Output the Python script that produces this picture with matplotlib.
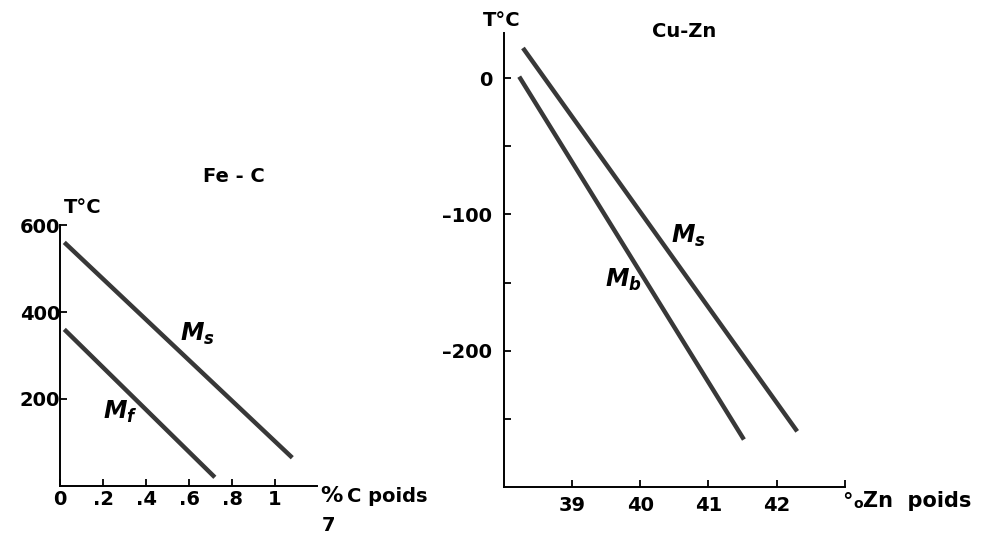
import matplotlib.pyplot as plt

plt.rcParams['font.family'] = ['DejaVu Sans']
plt.rcParams['font.weight'] = 'bold'
plt.rcParams['mathtext.fontset'] = 'custom'
plt.rcParams['mathtext.it'] = 'DejaVu Sans:italic:bold'
plt.rcParams['mathtext.rm'] = 'DejaVu Sans:bold'

# Fe-C panel
fec_carbon = [0.02, 1.08]
fec_ms = [560, 65]
fec_mf_carbon = [0.02, 0.72]
fec_mf = [360, 20]
fec_xticks = [0, 0.2, 0.4, 0.6, 0.8, 1]
fec_xlabels = ['0', '.2', '.4', '.6', '.8', '1']
fec_yticks = [200, 400, 600]

# Cu-Zn panel
cuzn_ms_zn = [38.285, 42.30]
cuzn_ms = [22, -259]
cuzn_mb_zn = [38.23, 41.52]
cuzn_mb = [1, -265]
cuzn_xticks = [39, 40, 41, 42, 43]
cuzn_xlabels = ['39', '40', '41', '42', '']
cuzn_yticks = [0, -50, -100, -150, -200, -250]
cuzn_ylabels = ['0', '', '–100', '', '–200', '']

line_col = '#383838'
fs = 14
fig = plt.figure(figsize=(9.86, 5.39), dpi=100)


def style_axes(ax):
    for s in ['top', 'right']:
        ax.spines[s].set_visible(False)
    for s in ['left', 'bottom']:
        ax.spines[s].set_linewidth(1.4)
    ax.tick_params(direction='in', length=5, width=1.3, labelsize=fs)
    for lab in ax.get_xticklabels() + ax.get_yticklabels():
        lab.set_fontweight('bold')


ax1 = fig.add_axes([60 / 986, (539 - 486) / 539, 257 / 986, 261 / 539])
ax1.plot(fec_carbon, fec_ms, color=line_col, lw=3.2, solid_capstyle='butt')
ax1.plot(fec_mf_carbon, fec_mf, color=line_col, lw=3.2, solid_capstyle='butt')
ax1.set_xlim(0.014, 1.195)
ax1.set_ylim(0, 600)
ax1.set_xticks(fec_xticks)
ax1.set_xticklabels(fec_xlabels)
ax1.set_yticks(fec_yticks)
ax1.set_yticklabels([str(v) for v in fec_yticks])
style_axes(ax1)
ax1.tick_params(axis='x', pad=3)
ax1.tick_params(axis='y', pad=0)
ax1.text(0.81, 712, 'Fe - C', ha='center', va='center', fontsize=fs, clip_on=False)
ax1.text(0.02, 640, 'T°C', ha='left', va='center', fontsize=fs, clip_on=False)
ax1.text(0.64, 349, '$M_s$', ha='center', va='center', fontsize=17)
ax1.text(0.28, 171, '$M_f$', ha='center', va='center', fontsize=17)
ax1.text(1.209, -23, '%', ha='left', va='center', fontsize=16, clip_on=False)
ax1.text(1.333, -23, 'C poids', ha='left', va='center', fontsize=fs, clip_on=False)
ax1.text(1.218, -90, '7', ha='left', va='center', fontsize=fs, clip_on=False)

ax2 = fig.add_axes([503.5 / 986, (539 - 487.3) / 539, 341.5 / 986, 454.3 / 539])
ax2.plot(cuzn_ms_zn, cuzn_ms, color=line_col, lw=3.2, solid_capstyle='butt')
ax2.plot(cuzn_mb_zn, cuzn_mb, color=line_col, lw=3.2, solid_capstyle='butt')
ax2.set_xlim(38, 43)
ax2.set_ylim(-300, 33)
ax2.set_xticks(cuzn_xticks)
ax2.set_xticklabels(cuzn_xlabels)
ax2.set_yticks(cuzn_yticks)
ax2.set_yticklabels(cuzn_ylabels)
style_axes(ax2)
ax2.tick_params(axis='x', pad=6)
ax2.tick_params(axis='y', pad=8)
ax2.text(37.97, 42, 'T°C', ha='center', va='center', fontsize=fs, clip_on=False)
ax2.text(40.65, 34, 'Cu-Zn', ha='center', va='center', fontsize=fs, clip_on=False)
ax2.text(40.70, -116, '$M_s$', ha='center', va='center', fontsize=17)
ax2.text(39.76, -148, '$M_b$', ha='center', va='center', fontsize=17)
# "%" drawn as a raised ring and a lowered ring, as in the original
ax2.text(43.04, -315, '°', ha='center', va='baseline', fontsize=15, clip_on=False)
ax2.text(43.2, -315, 'o', ha='center', va='baseline', fontsize=10, clip_on=False)
ax2.text(43.27, -310, 'Zn  poids', ha='left', va='center', fontsize=15, clip_on=False)

fig.savefig('out.png', dpi=100)
